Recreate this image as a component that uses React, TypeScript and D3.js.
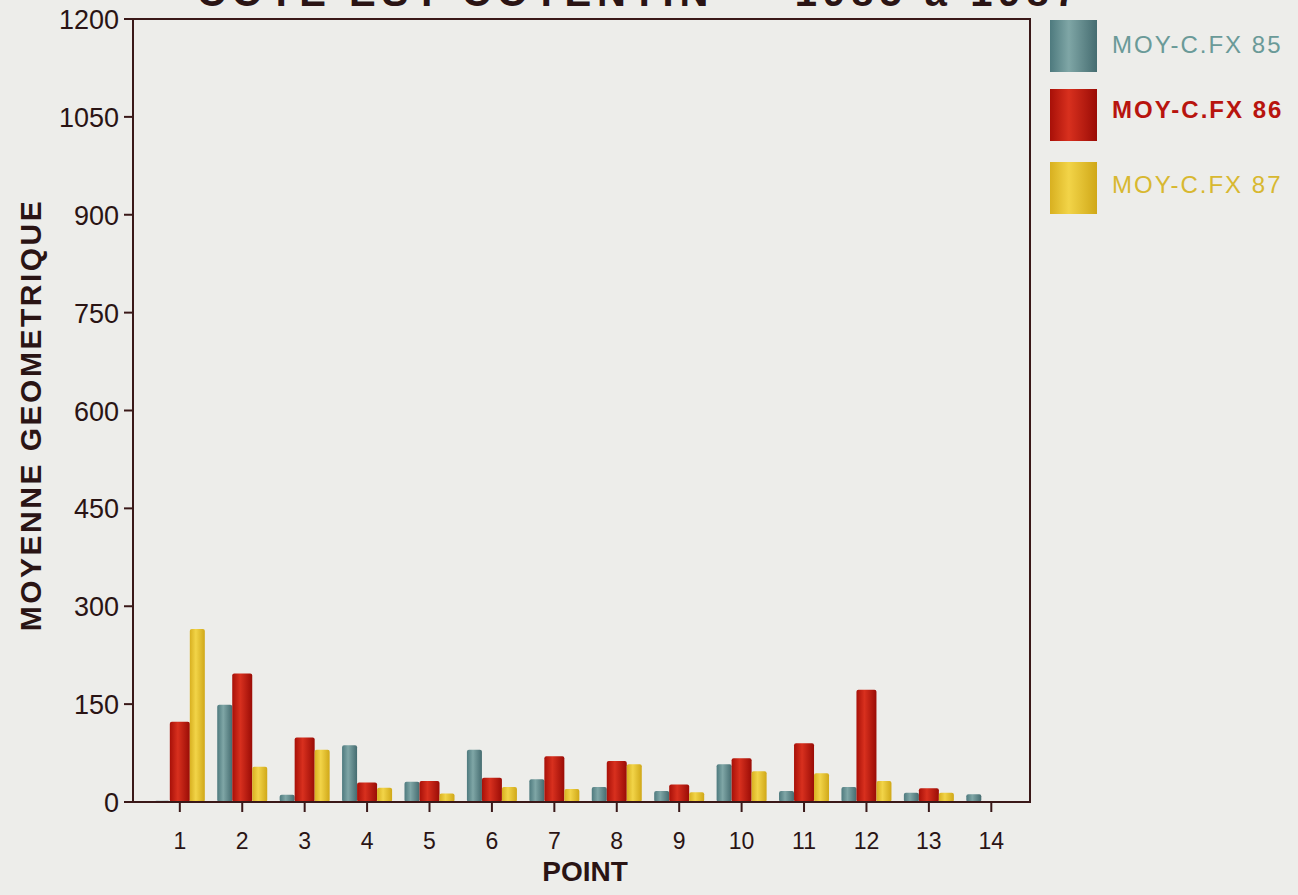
import React from "react";
import * as d3 from "d3";

const points = [1, 2, 3, 4, 5, 6, 7, 8, 9, 10, 11, 12, 13, 14];
const moy85 = [2, 149, 11, 87, 31, 80, 35, 23, 17, 58, 17, 23, 14, 12];
const moy86 = [123, 197, 99, 30, 32, 37, 70, 63, 27, 67, 90, 172, 21, 0];
const moy87 = [265, 54, 80, 22, 13, 23, 20, 58, 15, 47, 44, 32, 14, 0];
const yTicks = [0, 150, 300, 450, 600, 750, 900, 1050, 1200];
const seriesNames = ["MOY-C.FX 85", "MOY-C.FX 86", "MOY-C.FX 87"];

const W = 1298, H = 895;
const left = 133, right = 1030, top = 19, bottom = 802;

export default function App() {
  const x = d3.scaleLinear().domain([0.25, 14.62]).range([left, right]);
  const y = d3.scaleLinear().domain([0, 1200]).range([bottom, top]);
  const series = [
    { vals: moy85, off: -25, w: 15, grad: "gTeal", text: "#6a9a98", weight: 400 },
    { vals: moy86, off: -10, w: 20, grad: "gRed", text: "#b8140e", weight: 700 },
    { vals: moy87, off: 10, w: 15, grad: "gYel", text: "#d8b830", weight: 400 },
  ];
  const legendY = [20, 89, 162];
  const legendText = [53, 118, 193];
  const font = "'Liberation Sans', Arial, sans-serif";
  return (
    <svg width={W} height={H} style={{ position: "absolute", left: 0, top: 0, background: "#ededea" }} fontFamily={font}>
      <defs>
        <linearGradient id="gTeal" x1="0" x2="1" y1="0" y2="0">
          <stop offset="0" stopColor="#4e7a7e" />
          <stop offset="0.4" stopColor="#7fa6a6" />
          <stop offset="1" stopColor="#456c70" />
        </linearGradient>
        <linearGradient id="gRed" x1="0" x2="1" y1="0" y2="0">
          <stop offset="0" stopColor="#a81008" />
          <stop offset="0.4" stopColor="#d8301e" />
          <stop offset="1" stopColor="#9a0c06" />
        </linearGradient>
        <linearGradient id="gYel" x1="0" x2="1" y1="0" y2="0">
          <stop offset="0" stopColor="#d8b020" />
          <stop offset="0.4" stopColor="#f2d448" />
          <stop offset="1" stopColor="#d0a818" />
        </linearGradient>
      </defs>
      <rect width={W} height={H} fill="#ededea" />
      <text x={640} y={6} textAnchor="middle" fontSize={40} fontWeight={700} letterSpacing={6} fill="#2a1414">
        COTE EST COTENTIN — 1985 à 1987
      </text>
      {series.map((s, si) =>
        s.vals.map((v, i) =>
          v > 0 ? (
            <rect
              key={si + "-" + i}
              x={x(points[i]) + s.off}
              y={y(v)}
              width={s.w}
              height={bottom - y(v)}
              rx={2}
              fill={`url(#${s.grad})`}
            />
          ) : null
        )
      )}
      <rect x={left} y={top} width={right - left} height={bottom - top} fill="none" stroke="#3a1818" strokeWidth={2} />
      {yTicks.map((t) => (
        <g key={t}>
          <line x1={left - 9} x2={left} y1={y(t)} y2={y(t)} stroke="#3a1818" strokeWidth={2} />
          <text x={left - 14} y={y(t) + 10} textAnchor="end" fontSize={27} fill="#2a1414">{t}</text>
        </g>
      ))}
      {points.map((p) => (
        <g key={p}>
          <line x1={x(p)} x2={x(p)} y1={bottom} y2={bottom + 10} stroke="#3a1818" strokeWidth={2} />
          <text x={x(p)} y={bottom + 47} textAnchor="middle" fontSize={23} fill="#2a1414">{p}</text>
        </g>
      ))}
      <text x={585} y={881} textAnchor="middle" fontSize={28} fontWeight={700} fill="#2a1414">POINT</text>
      <text transform={`translate(41,415) rotate(-90)`} textAnchor="middle" fontSize={30} fontWeight={700} letterSpacing={2.5} fill="#2a1414">
        MOYENNE  GEOMETRIQUE
      </text>
      {series.map((s, i) => (
        <g key={"lg" + i}>
          <rect x={1050} y={legendY[i]} width={47} height={52} fill={`url(#${s.grad})`} />
          <text x={1112} y={legendText[i]} fontSize={24} fontWeight={s.weight} letterSpacing={2} fill={s.text}>{seriesNames[i]}</text>
        </g>
      ))}
    </svg>
  );
}
